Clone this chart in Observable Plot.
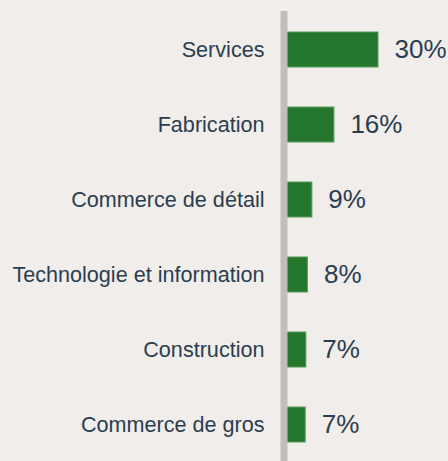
<!DOCTYPE html>
<html>
<head>
<meta charset="utf-8">
<script src="https://cdn.jsdelivr.net/npm/d3@7"></script>
<script src="https://cdn.jsdelivr.net/npm/@observablehq/plot@0.6"></script>
<style>
  html, body { margin: 0; padding: 0; background: #f1edea; }
  #chart svg { display: block; }
</style>
</head>
<body>
<div id="chart"></div>
<script>
const categories = ["Services", "Fabrication", "Commerce de détail", "Technologie et information", "Construction", "Commerce de gros"];
const shares = [30, 16, 9, 7.6, 7.1, 6.9];
const valueLabels = ["30%", "16%", "9%", "8%", "7%", "7%"];

const data = categories.map((c, i) => ({ category: c, share: shares[i], label: valueLabels[i] }));

const chart = Plot.plot({
  width: 448,
  height: 461,
  marginLeft: 283.5,
  marginRight: 0,
  marginTop: 11,
  marginBottom: 0,
  style: { background: "#f1edea", fontFamily: "'Liberation Sans', Arial, sans-serif" },
  x: { domain: [0, 30], range: [283.5, 378], axis: null },
  y: { domain: categories, range: [11, 463], paddingInner: 0.54, paddingOuter: 0.27, axis: null },
  marks: [
    Plot.barX(data, { x: "share", y: "category", fill: "#23762c", stroke: "#5a9c5d", strokeWidth: 1 }),
    Plot.ruleX([0], { stroke: "#c1bfbc", strokeWidth: 7 }),
    Plot.text(data, { x: "share", y: "category", text: "label", textAnchor: "start", dx: 16, fontSize: 26, fill: "#2b3e50" }),
    Plot.axisY({ tickSize: 0, tickPadding: 19.5, fontSize: 21.6, fill: "#2b3e50", label: null })
  ]
});
document.getElementById("chart").appendChild(chart);
</script>
</body>
</html>
